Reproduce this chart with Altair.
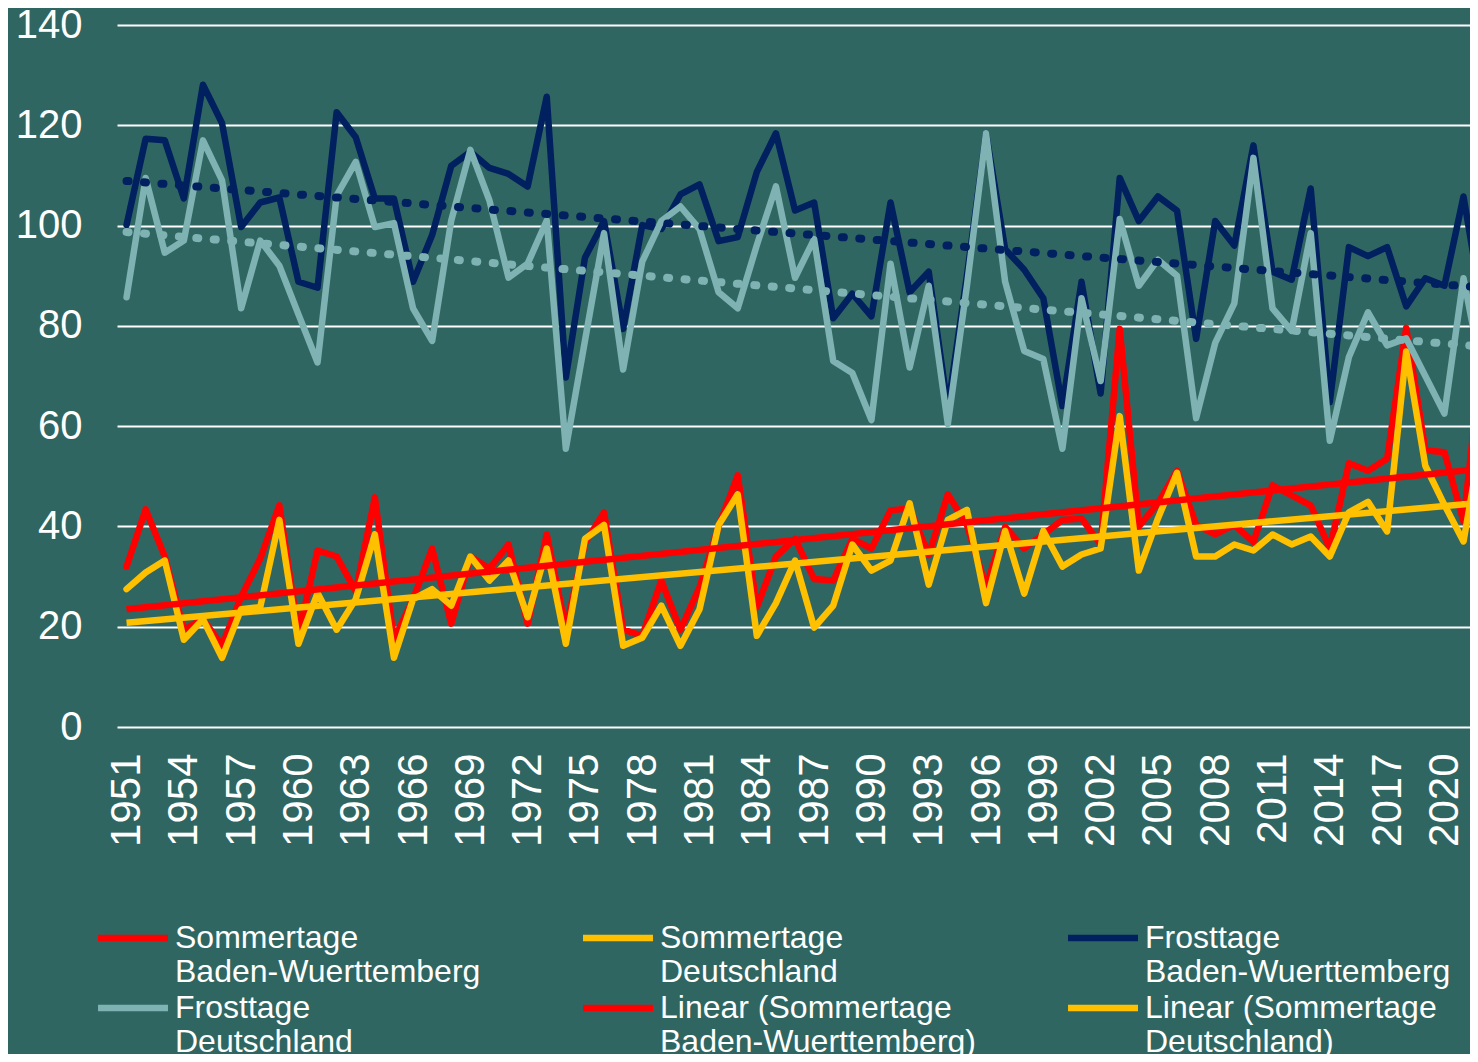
import altair as alt
import pandas as pd

years = list(range(1951, 2023))

sommer_bw = [32, 43.4, 34, 19.4, 21.5, 16.2, 26, 33.6, 44.2, 18.5,
             35.2, 34, 27.1, 45.8, 17.4, 25.5, 35.6, 20.6, 34, 31.6,
             36.4, 20.6, 38.4, 19.5, 36.7, 42.8, 19.4, 18.2, 29.2, 19.4,
             27.9, 40, 50.2, 23.9, 34, 37.5, 29.5, 29.2, 37.5, 35.6,
             43.2, 43.6, 34.3, 46.4, 40.3, 27.9, 39.9, 35.6, 38.4, 41.3,
             41.6, 36.4, 79.4, 40, 44.6, 51.1, 40.3, 38.4, 40.3, 36.9,
             48.2, 46.2, 44.2, 35.6, 52.6, 51.1, 53.5, 79.6, 55.2, 54.8,
             41, 76]

sommer_de = [27.5, 30.8, 33.2, 17.4, 21.5, 13.8, 23.5, 23.9, 41.3, 16.6,
             26.7, 19.4, 25.5, 38.4, 13.8, 25.5, 27.5, 24.2, 34, 29.2,
             33.2, 21.9, 35.6, 16.6, 37.5, 40.3, 16.2, 17.8, 24.2, 16.2,
             23.5, 40.3, 46.4, 18.2, 24.7, 33.2, 19.8, 24.2, 36.4, 31.2,
             33.2, 44.6, 28.4, 41.3, 43.3, 24.7, 39.1, 26.6, 39.1, 32,
             34.4, 35.6, 62, 31.2, 41.6, 50.7, 34, 34, 36.4, 35.2,
             38.4, 36.4, 38, 34, 42.8, 44.9, 39, 74.9, 52.1, 44.3,
             37, 59]

frost_bw = [100.1, 117.3, 117, 105.4, 128.1, 120.4, 99.7, 104.6, 105.6, 88.8,
            87.6, 122.6, 117.6, 105.4, 105.4, 88.8, 98.1, 111.9, 114.7, 111.5,
            110.3, 107.8, 125.7, 69.7, 93.6, 100.9, 79.4, 100.1, 99.3, 106.2,
            108.2, 96.9, 97.7, 110.7, 118.4, 103, 104.6, 81.5, 86.4, 81.9,
            104.6, 86.7, 90.8, 63.5, 90, 118.4, 95.3, 91.2, 85.5, 64,
            88.8, 66.5, 109.5, 100.9, 105.8, 103, 77.4, 100.9, 96, 116,
            90.8, 89.2, 107.4, 64.8, 95.7, 93.9, 95.7, 83.9, 89.5, 88,
            105.8, 83]

frost_de = [85.7, 109.5, 94.6, 97, 117, 109, 83.5, 97, 92, 82.3,
            72.7, 106, 112.7, 99.7, 100.5, 83.5, 77, 101, 115.1, 105,
            89.6, 92.4, 101, 55.5, 77, 98.5, 71.3, 92.8, 100.9, 103.8,
            99.3, 86.7, 83.5, 96.1, 107.8, 89.6, 97.3, 73, 70.6, 61.2,
            92.4, 71.7, 88, 60.4, 88, 118.4, 88.8, 75, 73.4, 55.5,
            85.5, 69, 101.3, 88, 93.2, 90, 61.6, 76.6, 84.5, 113.5,
            83.5, 79, 98.5, 57.1, 73.8, 82.7, 76.1, 77.5, 70, 62.5,
            89.5, 70]

names = ["Sommertage Baden-Wuerttemberg", "Sommertage Deutschland",
         "Frosttage Baden-Wuerttemberg", "Frosttage Deutschland",
         "Linear (Sommertage Baden-Wuerttemberg)", "Linear (Sommertage Deutschland)"]
colors = ["#FF0000", "#FFC000", "#002060", "#7FB2B2", "#FF0000", "#FFC000"]
widths = [6.5, 6.5, 7, 6.5, 4, 4]
y_ticks = [0, 20, 40, 60, 80, 100, 120, 140]
x_ticks = list(range(1951, 2021, 3))

rows = []
for name, vals in zip(names[:4], [sommer_bw, sommer_de, frost_bw, frost_de]):
    for yr, v in zip(years, vals):
        rows.append({"series": name, "year": yr, "value": v})
df = pd.DataFrame(rows)

FONT = "Liberation Sans"

x_enc = alt.X("year:Q",
              scale=alt.Scale(domain=[1950.5, 2021.34], nice=False, zero=False),
              axis=alt.Axis(values=x_ticks, format="d", labelAngle=270, title=None,
                            grid=False, domain=False, ticks=False, labelPadding=26,
                            labelFontSize=42, labelColor="white", labelFont=FONT,
                            labelOverlap=False, labelBound=False, labelFlush=False))
y_enc = alt.Y("value:Q",
              scale=alt.Scale(domain=[0, 140], nice=False),
              axis=alt.Axis(values=y_ticks, title=None, grid=True, gridColor="white",
                            gridWidth=2, gridOpacity=1, domain=False, ticks=False,
                            labelPadding=35, labelFontSize=40, labelColor="white",
                            labelFont=FONT))

# long horizontal stroke symbol with a small nominal size, so legend rows stay compact
legend = alt.Legend(title=None, orient="none", legendX=0, legendY=897, columns=3,
                    direction="horizontal",
                    symbolType="M-3,0L3,0", symbolSize=544, labelFontSize=32,
                    labelColor="white", labelFont=FONT, labelLimit=600,
                    columnPadding=79, rowPadding=4, gridAlign="all", padding=0,
                    labelOffset=26,
                    labelExpr="[slice(datum.label, 0, lastindexof(datum.label, ' ')), "
                              "slice(datum.label, lastindexof(datum.label, ' ') + 1)]")

color_enc = alt.Color("series:N", scale=alt.Scale(domain=names, range=colors), legend=legend)
width_enc = alt.StrokeWidth("series:N", scale=alt.Scale(domain=names, range=widths), legend=legend)

base = alt.Chart(df)

layers = []
for name in names[:4]:
    layers.append(
        base.transform_filter(alt.datum.series == name)
        .mark_line(clip=True, strokeCap="round", strokeJoin="round")
        .encode(x=x_enc, y=y_enc, color=color_enc, strokeWidth=width_enc)
    )

for name in names[:2]:
    layers.append(
        base.transform_filter(alt.datum.series == name)
        .transform_regression("year", "value", groupby=["series"])
        .transform_calculate(series="'Linear (' + datum.series + ')'")
        .mark_line(clip=True)
        .encode(x=x_enc, y=y_enc, color=color_enc, strokeWidth=width_enc)
    )

for name, col in [(names[2], "#002060"), (names[3], "#7FB2B2")]:
    layers.append(
        base.transform_filter(alt.datum.series == name)
        .transform_regression("year", "value")
        .mark_line(clip=True, color=col, strokeDash=[2, 15.5], strokeWidth=8,
                   strokeCap="round")
        .encode(x=x_enc, y=y_enc)
    )

chart = alt.layer(*layers).properties(
    width=1353, height=702,
    autosize=alt.AutoSizeParams(type="none"),
    padding={"left": 109, "top": 17, "right": 0, "bottom": 327},
    background="#2f6662",
).configure_view(stroke=None)

chart.save("out.html", embed_options={"renderer": "svg", "actions": False})
